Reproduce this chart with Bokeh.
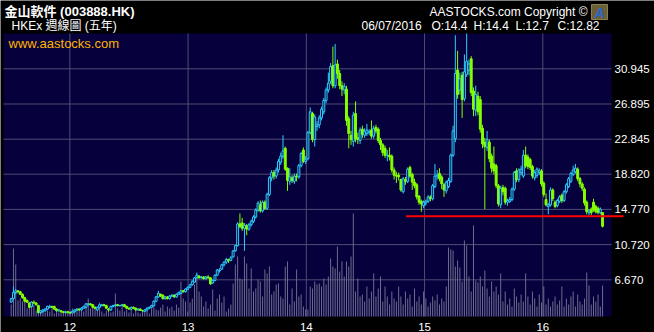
import pandas as pd
from bokeh.plotting import figure
from bokeh.models import ColumnDataSource, Range1d
from bokeh.embed import file_html
from bokeh.resources import INLINE
from bokeh.core.properties import value

# ---------------- data (weekly) ----------------
first_week = "2011-07-04"

opens = [
    4.1, 4.5, 5.2, 5.4, 5.3, 5.0, 4.6, 4.3, 4.0, 3.6,
    4.1, 4.0, 3.7, 2.9, 3.0, 3.1, 3.3, 3.5, 3.6, 3.6,
    3.3, 3.1, 3.1, 3.0, 2.9, 3.0, 2.9, 2.85, 3.0, 3.2,
    3.3, 3.2, 3.4, 3.5, 3.8, 3.9, 3.8, 3.5, 3.2, 3.5,
    3.7, 3.8, 3.7, 3.3, 3.2, 3.6, 3.7, 3.8, 3.7, 3.7,
    3.8, 3.6, 3.4, 3.3, 3.5, 3.4, 3.2, 3.3, 3.15, 3.0,
    3.2, 3.4, 3.5, 3.7, 4.2, 4.7, 5.0, 4.9, 4.5, 4.7,
    4.5, 4.8, 4.9, 4.7, 5.0, 5.1, 5.4, 5.3, 5.6, 5.8,
    6.1, 6.4, 6.9, 7.1, 6.9, 7.0, 6.8, 7.0, 6.9, 6.3,
    6.6, 7.2, 7.7, 7.9, 8.4, 8.7, 9.0, 8.9, 9.3, 10.0,
    10.6, 13.1, 13.2, 12.6, 12.9, 12.5, 13.0, 13.4, 13.9, 14.7,
    15.3, 14.6, 15.6, 14.9, 16.5, 18.4, 19.0, 18.6, 19.3, 20.2,
    20.9, 21.8, 19.5, 18.0, 18.4, 18.0, 18.6, 18.5, 19.8, 21.6,
    20.3, 20.6, 23.6, 25.8, 22.8, 24.3, 24.5, 25.3, 26.0, 27.3,
    28.5, 29.5, 31.3, 29.0, 31.5, 30.4, 29.0, 28.5, 28.6, 25.2,
    23.3, 22.6, 25.8, 23.0, 22.7, 24.0, 23.3, 23.5, 23.6, 23.9,
    23.2, 24.2, 24.0, 22.7, 22.2, 21.8, 21.0, 21.0, 20.9, 19.3,
    18.7, 18.7, 18.2, 16.8, 18.2, 18.0, 19.6, 18.8, 17.9, 17.6,
    16.3, 15.7, 15.2, 15.5, 15.7, 16.2, 16.0, 17.4, 18.6, 18.9,
    18.5, 17.6, 16.9, 17.4, 18.0, 21.0, 22.9, 30.8, 28.5, 30.2,
    27.5, 30.3, 30.8, 32.1, 28.4, 26.2, 27.8, 27.4, 24.1, 22.5,
    21.9, 22.5, 20.9, 20.0, 19.8, 17.5, 15.3, 17.3, 17.2, 15.6,
    15.7, 15.9, 17.1, 19.2, 18.2, 19.0, 18.6, 21.0, 20.8, 20.5,
    19.7, 18.4, 18.7, 19.0, 19.2, 17.8, 15.9, 15.1, 15.3, 17.0,
    15.6, 15.2, 15.7, 16.4, 15.8, 16.8, 17.4, 18.0, 18.8, 19.1,
    19.4, 18.3, 17.7, 17.1, 15.6, 14.4, 14.8, 15.6, 15.1, 14.9,
    14.4, 14.4,
]

highs = [
    4.6, 5.9, 5.6, 5.5, 5.4, 5.1, 4.7, 4.4, 4.1, 4.2,
    4.3, 4.1, 3.8, 3.2, 3.3, 3.4, 3.7, 3.8, 3.7, 3.7,
    3.4, 3.3, 3.2, 3.1, 3.1, 3.1, 3.0, 3.1, 3.3, 3.4,
    3.4, 3.5, 3.7, 4.0, 4.0, 4.0, 3.9, 3.6, 3.6, 3.9,
    3.9, 3.9, 3.8, 3.4, 3.7, 3.8, 3.9, 3.9, 3.8, 3.9,
    3.9, 3.7, 3.5, 3.6, 3.6, 3.5, 3.4, 3.4, 3.2, 3.3,
    3.5, 3.6, 3.8, 4.3, 4.8, 5.4, 5.1, 5.0, 4.8, 4.8,
    4.9, 5.0, 5.0, 5.1, 5.3, 5.5, 5.5, 5.7, 5.9, 6.2,
    6.6, 7.0, 7.5, 7.2, 7.1, 7.1, 7.1, 7.2, 7.0, 6.7,
    7.3, 7.9, 8.0, 8.5, 8.8, 9.2, 9.1, 9.4, 10.1, 10.7,
    13.3, 14.3, 13.8, 13.2, 13.1, 13.2, 13.6, 14.1, 14.9, 15.7,
    15.8, 15.8, 15.8, 16.7, 18.6, 19.3, 19.3, 19.6, 20.6, 21.3,
    23.3, 22.0, 19.6, 19.5, 18.7, 18.9, 18.9, 20.0, 21.4, 21.9,
    20.9, 23.8, 26.5, 26.0, 25.7, 24.9, 25.6, 26.6, 27.6, 28.8,
    30.5, 31.6, 33.5, 33.8, 32.0, 30.8, 29.5, 29.3, 29.0, 25.5,
    23.8, 26.0, 27.2, 23.6, 24.2, 24.4, 24.1, 24.6, 24.0, 25.0,
    24.4, 24.5, 24.2, 23.0, 22.4, 22.1, 21.6, 21.9, 21.1, 19.6,
    19.1, 19.0, 18.3, 18.5, 18.5, 19.6, 19.8, 19.0, 18.3, 17.8,
    16.4, 15.9, 15.8, 15.9, 16.4, 16.4, 17.7, 20.0, 19.3, 19.5,
    18.7, 17.8, 18.1, 18.4, 21.2, 24.4, 34.8, 33.0, 30.5, 30.6,
    32.6, 35.0, 32.0, 32.4, 28.8, 29.0, 28.3, 27.8, 24.5, 23.0,
    23.8, 22.8, 21.2, 22.0, 20.0, 17.7, 17.5, 17.6, 17.4, 16.0,
    16.2, 17.3, 19.2, 19.5, 19.5, 19.8, 21.6, 22.0, 21.1, 20.7,
    19.9, 19.3, 19.6, 19.5, 19.4, 18.0, 16.6, 15.5, 17.3, 17.2,
    15.8, 16.0, 16.4, 16.6, 17.0, 17.8, 18.5, 19.1, 19.8, 20.0,
    19.6, 18.5, 17.9, 17.3, 15.8, 14.8, 15.0, 16.0, 15.3, 15.1,
    15.0, 14.4,
]

lows = [
    4.0, 4.4, 5.0, 5.1, 4.9, 4.5, 4.1, 4.0, 3.4, 3.5,
    3.9, 3.7, 2.8, 2.7, 2.9, 3.0, 3.2, 3.4, 3.4, 3.2,
    3.0, 3.0, 2.9, 2.8, 2.8, 2.8, 2.75, 2.8, 2.9, 3.1,
    3.1, 3.1, 3.3, 3.4, 3.7, 3.7, 3.4, 3.3, 3.1, 3.4,
    3.6, 3.6, 3.3, 3.0, 3.1, 3.5, 3.6, 3.6, 3.6, 3.6,
    3.5, 3.3, 3.2, 3.2, 3.3, 3.1, 3.1, 3.1, 3.0, 2.95,
    3.1, 3.3, 3.4, 3.6, 4.1, 4.6, 4.7, 4.4, 4.4, 4.4,
    4.4, 4.7, 4.6, 4.6, 4.9, 5.0, 5.2, 5.2, 5.5, 5.7,
    6.0, 6.3, 6.8, 6.8, 6.8, 6.7, 6.7, 6.8, 6.1, 6.2,
    6.5, 7.1, 7.5, 7.8, 8.2, 8.5, 8.6, 8.8, 9.2, 9.9,
    10.5, 12.6, 12.3, 10.0, 11.8, 12.3, 12.8, 13.2, 13.7, 14.5,
    14.4, 14.4, 14.7, 14.7, 16.3, 18.0, 18.2, 18.3, 19.0, 19.9,
    20.6, 19.2, 16.9, 17.6, 17.8, 17.7, 18.0, 18.3, 19.6, 20.1,
    20.0, 20.4, 23.4, 22.5, 22.0, 23.8, 24.1, 25.0, 25.7, 27.0,
    28.2, 29.2, 28.7, 28.7, 29.8, 28.6, 27.8, 28.0, 24.4, 21.8,
    22.2, 22.0, 22.5, 22.3, 22.3, 23.0, 23.0, 23.2, 23.3, 22.9,
    22.9, 23.5, 22.4, 21.6, 20.9, 20.7, 20.3, 20.4, 19.0, 18.2,
    17.8, 18.1, 16.8, 16.6, 17.6, 17.8, 18.4, 17.0, 17.2, 15.9,
    15.3, 14.5, 14.9, 15.2, 15.5, 15.7, 15.8, 17.2, 18.2, 18.0,
    17.1, 16.2, 16.6, 17.2, 17.8, 20.8, 22.5, 27.5, 28.0, 25.3,
    27.2, 30.0, 30.2, 27.8, 25.5, 25.5, 25.6, 23.6, 21.8, 14.8,
    21.5, 20.2, 19.0, 18.8, 17.2, 15.1, 14.9, 16.4, 15.3, 15.2,
    15.5, 15.7, 16.9, 17.9, 17.9, 18.7, 18.4, 19.5, 19.4, 19.3,
    18.3, 18.1, 18.4, 18.7, 17.4, 16.2, 15.1, 14.2, 15.1, 15.7,
    14.9, 15.0, 15.5, 15.5, 15.6, 16.6, 17.2, 17.8, 18.6, 18.9,
    18.0, 17.3, 16.9, 15.2, 14.2, 14.1, 14.1, 14.5, 14.3, 14.2,
    14.2, 12.7,
]

closes = [
    4.5, 5.2, 5.4, 5.3, 5.0, 4.6, 4.2, 4.1, 3.5, 4.1,
    4.0, 3.8, 2.9, 3.1, 3.2, 3.3, 3.6, 3.6, 3.5, 3.3,
    3.1, 3.2, 3.0, 2.9, 3.0, 2.9, 2.85, 3.05, 3.2, 3.3,
    3.2, 3.4, 3.6, 3.9, 3.9, 3.8, 3.5, 3.4, 3.5, 3.8,
    3.8, 3.7, 3.4, 3.2, 3.6, 3.7, 3.8, 3.7, 3.7, 3.8,
    3.6, 3.4, 3.3, 3.5, 3.4, 3.2, 3.3, 3.15, 3.1, 3.2,
    3.4, 3.5, 3.7, 4.2, 4.7, 5.1, 4.8, 4.5, 4.7, 4.5,
    4.8, 4.9, 4.7, 5.0, 5.2, 5.4, 5.3, 5.6, 5.8, 6.1,
    6.5, 6.9, 7.2, 6.9, 7.0, 6.8, 7.0, 6.9, 6.2, 6.6,
    7.2, 7.8, 7.8, 8.4, 8.7, 9.0, 8.9, 9.2, 10.0, 10.6,
    13.1, 12.8, 12.6, 12.9, 12.5, 13.0, 13.4, 13.9, 14.7, 15.5,
    14.6, 15.6, 14.9, 16.5, 18.4, 19.0, 18.6, 19.3, 20.3, 20.9,
    21.5, 19.4, 18.1, 18.5, 18.1, 18.6, 18.5, 19.8, 21.2, 20.3,
    20.5, 23.6, 26.0, 22.8, 25.4, 24.5, 25.3, 26.3, 27.3, 28.5,
    29.3, 31.2, 29.0, 31.4, 30.4, 29.0, 28.6, 28.9, 25.0, 23.5,
    22.8, 25.6, 22.9, 22.8, 23.9, 23.4, 23.7, 23.9, 23.7, 23.2,
    24.1, 23.8, 22.7, 22.2, 21.3, 21.0, 21.0, 20.8, 19.3, 18.7,
    18.6, 18.5, 17.0, 18.3, 18.0, 19.4, 18.6, 17.9, 17.5, 16.2,
    15.6, 15.4, 15.6, 15.7, 16.2, 16.0, 17.5, 18.6, 18.7, 18.3,
    17.7, 17.0, 17.9, 18.1, 21.0, 23.8, 30.4, 28.0, 29.8, 27.4,
    30.6, 31.8, 31.5, 28.2, 26.3, 28.0, 26.0, 24.0, 22.3, 22.0,
    22.8, 20.6, 19.5, 19.2, 17.5, 15.4, 17.2, 16.8, 15.6, 15.8,
    15.9, 17.1, 19.0, 18.2, 19.3, 19.4, 21.0, 19.8, 19.7, 19.6,
    18.6, 19.0, 19.4, 19.2, 17.7, 16.5, 15.3, 15.3, 17.0, 16.0,
    15.1, 15.8, 16.2, 15.8, 16.8, 17.6, 18.3, 18.9, 19.3, 19.5,
    18.3, 17.7, 17.2, 15.5, 14.5, 14.6, 14.4, 14.7, 14.5, 14.4,
    14.8, 12.82,
]

volumes = [  # weekly turnover, relative units (estimated)
    12, 68, 52, 16, 18, 15, 20, 8, 14, 10,
    12, 6, 8, 5, 7, 4, 6, 5, 8, 3,
    5, 4, 6, 3, 5, 4, 6, 8, 5, 7,
    6, 9, 5, 10, 18, 8, 12, 10, 6, 14,
    5, 3, 6, 8, 4, 5, 23, 8, 6, 10,
    5, 7, 4, 9, 3, 6, 4, 3, 5, 4,
    6, 3, 8, 10, 7, 6, 9, 12, 5, 10,
    8, 10, 6, 12, 9, 35, 18, 15, 5, 14,
    18, 32, 42, 25, 20, 10, 15, 8, 12, 27,
    6, 18, 22, 14, 20, 5, 8, 12, 33, 52,
    60, 38, 37, 60, 53, 28, 48, 25, 28, 37,
    35, 20, 47, 43, 50, 22, 25, 32, 33, 20,
    18, 50, 55, 12, 28, 15, 47, 20, 22, 10,
    7, 7, 30, 28, 35, 32, 33, 30, 38, 32,
    40, 58, 50, 48, 70, 45, 55, 40, 55, 50,
    60, 103, 25, 38, 20, 22, 15, 30, 18, 25,
    43, 20, 28, 40, 15, 30, 20, 12, 25, 18,
    15, 30, 20, 12, 25, 18, 22, 10, 28, 15,
    20, 12, 25, 18, 10, 14, 20, 16, 22, 12,
    18, 15, 30, 69, 67, 66, 50, 56, 49, 35,
    76, 71, 40, 25, 91, 36, 34, 40, 30, 46,
    28, 20, 35, 25, 30, 22, 43, 15, 25, 12,
    18, 10, 28, 20, 14, 22, 15, 43, 20, 12,
    25, 18, 10, 22, 14, 30, 12, 18, 10, 15,
    20, 12, 16, 30, 10, 18, 12, 20, 25, 10,
    22, 15, 12, 18, 44, 31, 12, 20, 15, 22,
    10, 31,
]

year_ticks = [12, 13, 14, 15, 16]
price_ticks = [6.670, 10.720, 14.770, 18.820, 22.845, 26.895, 30.945]
support_level = 13.99
support_from = "2014-11-05"

title_text = "金山軟件 (003888.HK)"
subtitle_text = "HKEx 週線圖 (五年)"
copyright_text = "AASTOCKS.com Copyright ©"
info_parts = ["06/07/2016", "O:14.4", "H:14.4", "L:12.7", "C:12.82"]
site_text = "www.aastocks.com"

n = len(closes)
assert len(opens) == n and len(highs) == n and len(lows) == n and len(volumes) == n

# ---------------- geometry helpers ----------------
def frac_year(d):
    d = pd.Timestamp(d)
    days = 366 if d.is_leap_year else 365
    return d.year - 2000 + (d.dayofyear - 1) / days

dates = pd.date_range(first_week, periods=n, freq="7D")
xs = [frac_year(d) for d in dates]

W, H = 654, 332
FL, FR, FT, FB = 3, 611, 33, 316          # plot panel in pixels
PX0, PX1 = 11.439, 16.581                 # x values at panel edges
PY0, PY1 = 2.448, 35.006                  # price values at panel edges

def dx(px):
    return PX0 + (px - FL) / (FR - FL) * (PX1 - PX0)

def dy(py):
    return PY1 - (py - FT) / (FB - FT) * (PY1 - PY0)

BG = "#06003c"
CYAN = "#2ecfff"
GREEN = "#84ff00"
GRID = "#4e4e74"
VOL = "#6c6c8c"

p = figure(width=W, height=H, output_backend="svg", toolbar_location=None,
           x_range=Range1d(dx(0), dx(W)), y_range=Range1d(dy(H), dy(0)),
           x_axis_location=None, y_axis_location=None,
           min_border_left=0, min_border_right=0, min_border_top=0, min_border_bottom=0)
p.background_fill_color = "black"
p.border_fill_color = "black"
p.outline_line_color = None
p.xgrid.visible = False
p.ygrid.visible = False

# volume range: 0 at the bottom of the panel, panel height = 283 units
p.extra_y_ranges = {"vol": Range1d(-(H - FB), FB)}

# panel
p.quad(left=[dx(FL)], right=[dx(FR)], bottom=[dy(FB)], top=[dy(FT)],
       fill_color=BG, line_color=None)

# grid lines
p.segment(x0=year_ticks, y0=[dy(FB)] * len(year_ticks), x1=year_ticks,
          y1=[dy(FT)] * len(year_ticks), line_color=GRID, line_width=1)
p.segment(x0=[dx(FL)] * len(price_ticks), y0=price_ticks,
          x1=[dx(FR)] * len(price_ticks), y1=price_ticks, line_color=GRID, line_width=1)

# volume
vsrc = ColumnDataSource(dict(x=xs, v=volumes, z=[0] * n))
p.segment(x0="x", y0="z", x1="x", y1="v", source=vsrc, y_range_name="vol",
          line_color=VOL, line_width=1)

# candles
bw = 0.85 * 7 / 365.25
up = [c >= o for o, c in zip(opens, closes)]
col = [CYAN if u else GREEN for u in up]
fill = [BG if u else GREEN for u in up]
src = ColumnDataSource(dict(
    x=xs, o=opens, h=highs, l=lows, c=closes,
    top=[max(o, c) for o, c in zip(opens, closes)],
    bot=[min(o, c) for o, c in zip(opens, closes)],
    col=col, fill=fill))
p.segment(x0="x", y0="l", x1="x", y1="h", source=src, line_color="col", line_width=1)
p.vbar(x="x", width=bw, top="top", bottom="bot", source=src,
       fill_color="fill", line_color="col", line_width=1)

# support line (extends a little past the panel)
sx0 = frac_year(support_from)
p.segment(x0=[sx0], y0=[support_level], x1=[dx(623)], y1=[support_level],
          line_color="#ff0000", line_width=2)

# axis labels (as text)
LAT = "Liberation Sans"
MIX = "'Liberation Sans', 'Noto Sans CJK TC'"
p.text(x=[dx(614)] * len(price_ticks), y=price_ticks,
       text=["%.3f" % t for t in price_ticks], text_color="white",
       text_font=value(LAT), text_font_size="11.5px",
       text_baseline="middle", text_align="left")
p.text(x=year_ticks, y=[dy(326.5)] * len(year_ticks),
       text=[str(t) for t in year_ticks], text_color="white",
       text_font=value(LAT), text_font_size="11.5px",
       text_baseline="middle", text_align="center")

# header texts
p.text(x=[dx(4)], y=[dy(11)], text=[title_text], text_color="white",
       text_font=value(MIX), text_font_style="bold", text_font_size="13px",
       text_baseline="middle", text_align="left")
p.text(x=[dx(11)], y=[dy(25.5)], text=[subtitle_text], text_color="white",
       text_font=value(MIX), text_font_size="12px",
       text_baseline="middle", text_align="left")
p.text(x=[dx(587)], y=[dy(11.5)], text=[copyright_text], text_color="white",
       text_font=value(LAT), text_font_size="12px",
       text_baseline="middle", text_align="right")
info_px = [361, 431, 473, 515, 557]
p.text(x=[dx(v) for v in info_px], y=[dy(25.7)] * len(info_parts), text=info_parts,
       text_color="white", text_font=value(LAT), text_font_size="12px",
       text_baseline="middle", text_align="left")
p.text(x=[dx(8)], y=[dy(42.5)], text=[site_text], text_color="#ffb400",
       text_font=value(LAT), text_font_size="13px",
       text_baseline="middle", text_align="left")

# logo
p.quad(left=[dx(591)], right=[dx(607)], bottom=[dy(19)], top=[dy(4)],
       fill_color="#6a6035", line_color="#8a8050")
p.text(x=[dx(599)], y=[dy(12)], text=["A"], text_color="#2d63d8",
       text_font=value(LAT), text_font_style="bold italic", text_font_size="14px",
       text_baseline="middle", text_align="center")

open("out.html", "w").write(file_html(p, INLINE))
